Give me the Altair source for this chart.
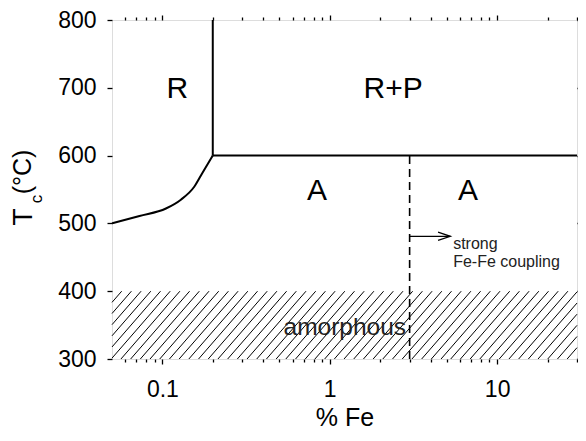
import altair as alt
import pandas as pd
import numpy as np

# ---------------- data ----------------
X_DOMAIN = [0.05, 30]
Y_DOMAIN = [300, 800]

curve_x = [0.05, 0.073, 0.105, 0.129, 0.155, 0.173, 0.2]
curve_y = [500, 511, 522, 535, 554, 574, 600]

# solid boundaries: (x, x2, y, y2)
solid_x1 = [0.2, 0.2]
solid_x2 = [0.2, 30]
solid_y1 = [600, 600]
solid_y2 = [800, 600]

dash_x = [3]
dash_y1 = [300]
dash_y2 = [600]

arrow_x1 = [3]
arrow_x2 = [5.25]
arrow_y = [481]

amorph_y = [300, 400]

region_labels = ["R", "R+P", "A", "A"]
region_x = [0.123, 2.39, 0.84, 6.7]
region_y = [698, 698, 548, 548]

note_lines = ["strong", "Fe-Fe coupling"]
note_x = [5.46, 5.46]
note_y = [470, 443]

amorph_label = ["amorphous"]
amorph_lx = [1.23]
amorph_ly = [346]

major_ticks = [0.1, 1, 10]
minor_ticks = [0.06, 0.07, 0.08, 0.09, 0.2, 0.3, 0.4, 0.5, 0.6, 0.7, 0.8, 0.9,
               2, 3, 4, 5, 6, 7, 8, 9, 20, 30]
y_ticks = [300, 400, 500, 600, 700, 800]

# ---------------- layout ----------------
W, H = 465, 339
FONT = "Liberation Sans"

xs = alt.Scale(type="log", domain=X_DOMAIN, nice=False)
ys = alt.Scale(domain=Y_DOMAIN, nice=False, zero=False)

# hatch lines for the amorphous band
lx0, lx1 = np.log10(X_DOMAIN[0]), np.log10(X_DOMAIN[1])
px_per_dec = W / (lx1 - lx0)
px_per_y = H / (Y_DOMAIN[1] - Y_DOMAIN[0])
band_h = (amorph_y[1] - amorph_y[0]) * px_per_y
slope = 1.15
spacing = 9.7
rows = []
c = -band_h / slope
while c < W:
    ua, ub = c, c + band_h / slope
    ua_c, ub_c = max(ua, 0), min(ub, W)
    if ub_c > ua_c:
        va, vb = slope * (ua_c - c), slope * (ub_c - c)
        rows.append({
            "x": 10 ** (lx0 + ua_c / px_per_dec),
            "x2": 10 ** (lx0 + ub_c / px_per_dec),
            "y": amorph_y[0] + va / px_per_y,
            "y2": amorph_y[0] + vb / px_per_y,
        })
    c += spacing
hatch_df = pd.DataFrame(rows)

hatch = alt.Chart(hatch_df).mark_rule(color="black", strokeWidth=1.0).encode(
    x=alt.X("x:Q", scale=xs, axis=None), x2="x2",
    y=alt.Y("y:Q", scale=ys, axis=None), y2="y2")

curve = alt.Chart(pd.DataFrame({"x": curve_x, "y": curve_y})).mark_line(
    color="black", strokeWidth=2, interpolate="monotone").encode(
    x=alt.X("x:Q", scale=xs, axis=None), y=alt.Y("y:Q", scale=ys, axis=None))

solid = alt.Chart(pd.DataFrame({"x": solid_x1, "x2": solid_x2, "y": solid_y1, "y2": solid_y2})).mark_rule(
    color="black", strokeWidth=2).encode(
    x=alt.X("x:Q", scale=xs, axis=None), x2="x2",
    y=alt.Y("y:Q", scale=ys, axis=None), y2="y2")

dashed = alt.Chart(pd.DataFrame({"x": dash_x, "y": dash_y1, "y2": dash_y2})).mark_rule(
    color="black", strokeWidth=1.6, strokeDash=[8, 5]).encode(
    x=alt.X("x:Q", scale=xs, axis=None),
    y=alt.Y("y:Q", scale=ys, axis=None), y2="y2")

arrow_df = pd.DataFrame({"x": arrow_x1, "x2": arrow_x2, "y": arrow_y})
arrow_line = alt.Chart(arrow_df).mark_rule(color="black", strokeWidth=1.3).encode(
    x=alt.X("x:Q", scale=xs, axis=None), x2="x2",
    y=alt.Y("y:Q", scale=ys, axis=None))
arrow_head = alt.Chart(arrow_df).mark_point(
    shape="M -1 -0.33 L 0 0 L -1 0.33", filled=False, color="black",
    strokeWidth=1.3, size=600, opacity=1).encode(
    x=alt.X("x2:Q", scale=xs, axis=None), y=alt.Y("y:Q", scale=ys, axis=None))

regions = alt.Chart(pd.DataFrame({"t": region_labels, "x": region_x, "y": region_y})).mark_text(
    font=FONT, fontSize=30, color="black", baseline="middle").encode(
    x=alt.X("x:Q", scale=xs, axis=None), y=alt.Y("y:Q", scale=ys, axis=None), text="t:N")

notes = alt.Chart(pd.DataFrame({"t": note_lines, "x": note_x, "y": note_y})).mark_text(
    font=FONT, fontSize=16, color="#222", align="left", baseline="middle").encode(
    x=alt.X("x:Q", scale=xs, axis=None), y=alt.Y("y:Q", scale=ys, axis=None), text="t:N")

amorph = alt.Chart(pd.DataFrame({"t": amorph_label, "x": amorph_lx, "y": amorph_ly})).mark_text(
    font=FONT, fontSize=24.5, color="#222", baseline="middle").encode(
    x=alt.X("x:Q", scale=xs, axis=None), y=alt.Y("y:Q", scale=ys, axis=None), text="t:N")

# y title with subscript
ytitle = alt.Chart(pd.DataFrame({"t": ["T", "(°C)"], "px": [-88, -89], "py": [197, 152], "fs": [28, 25]})).mark_text(
    font=FONT, color="black", angle=270, align="center", baseline="middle").encode(
    x=alt.X("px:Q", scale=None, axis=None), y=alt.Y("py:Q", scale=None, axis=None), text="t:N",
    size=alt.Size("fs:Q", scale=None, legend=None))
ysub = alt.Chart(pd.DataFrame({"t": ["c"], "px": [-75], "py": [179]})).mark_text(
    font=FONT, fontSize=17, color="black", angle=270, align="center", baseline="middle").encode(
    x=alt.X("px:Q", scale=None, axis=None), y=alt.Y("py:Q", scale=None, axis=None), text="t:N")

# axes layers (invisible marks carrying axes)
ax_common = dict(grid=False, domain=False, tickColor="black", tickWidth=1.3,
                 labelFont=FONT, labelColor="black", titleFont=FONT, titleColor="black")
anchor = pd.DataFrame({"x": [1], "y": [500]})

def axis_layer(xaxis, yaxis):
    return alt.Chart(anchor).mark_point(opacity=0).encode(
        x=alt.X("x:Q", scale=xs, axis=xaxis),
        y=alt.Y("y:Q", scale=ys, axis=yaxis))

ax_bottom_major = axis_layer(
    alt.Axis(orient="bottom", values=major_ticks, format="~g", tickSize=5,
             labelFontSize=23, labelPadding=14, title="% Fe", titleFontSize=25,
             titleFontWeight="normal", titlePadding=4, **ax_common),
    alt.Axis(orient="left", values=y_ticks, tickSize=5, labelFontSize=23, labelPadding=11,
             title=None, **ax_common))
ax_bottom_minor = axis_layer(
    alt.Axis(orient="bottom", values=minor_ticks, labels=False, tickSize=3, title=None, **ax_common),
    alt.Axis(orient="right", values=y_ticks, labels=False, tickSize=4, title=None, **ax_common))
ax_top_major = axis_layer(
    alt.Axis(orient="top", values=major_ticks, labels=False, tickSize=5, title=None, **ax_common),
    None)
ax_top_minor = axis_layer(
    alt.Axis(orient="top", values=minor_ticks, labels=False, tickSize=3, title=None, **ax_common),
    None)

chart = alt.layer(
    hatch, curve, solid, dashed, arrow_line, arrow_head, regions, notes, amorph,
    ax_bottom_major, ax_bottom_minor, ax_top_major, ax_top_minor, ytitle, ysub
).resolve_axis(x="independent", y="independent").properties(
    width=W, height=H,
    autosize=alt.AutoSizeParams(type="none"),
    padding={"left": 104, "top": 12, "right": 1, "bottom": 74},
).configure_view(stroke="black", strokeWidth=1.5).configure(background="white")

chart.save("out.html", embed_options={"renderer": "svg", "actions": False})
